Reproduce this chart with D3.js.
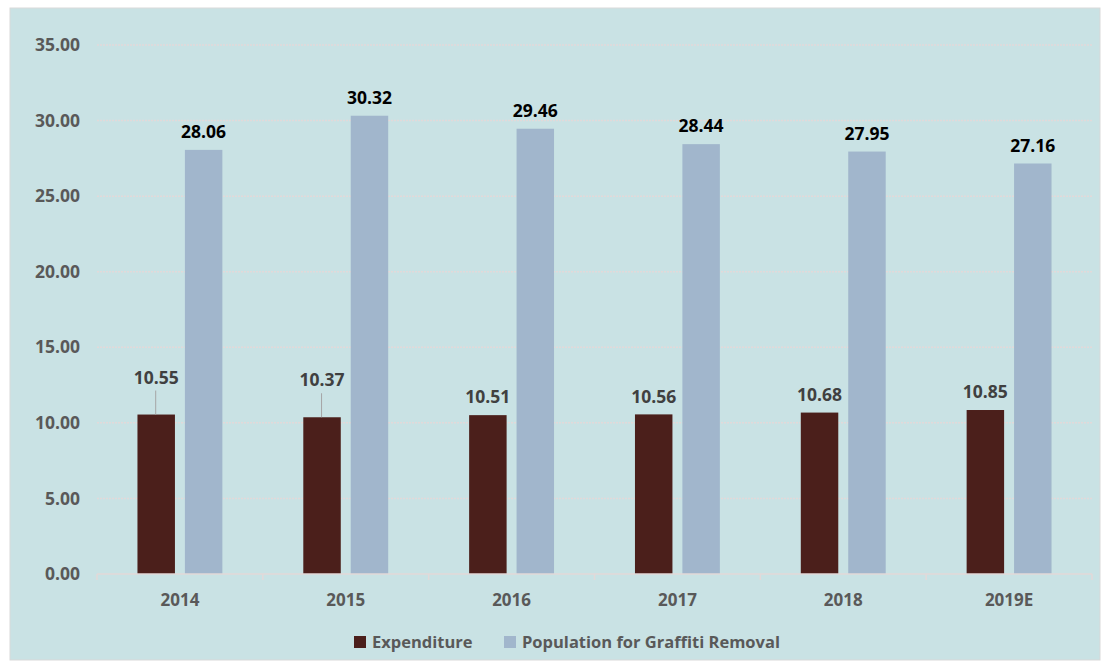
<!DOCTYPE html>
<html>
<head>
<meta charset="utf-8">
<script src="https://cdn.jsdelivr.net/npm/d3@7"></script>
<style>
  html, body { margin: 0; padding: 0; background: #ffffff; }
  svg text { font-family: "Open Sans", "Liberation Sans", sans-serif; font-weight: 700; }
</style>
</head>
<body>
<div id="chart"></div>
<script>
// data
const years = ["2014", "2015", "2016", "2017", "2018", "2019E"];
const expenditure = [10.55, 10.37, 10.51, 10.56, 10.68, 10.85];
const population = [28.06, 30.32, 29.46, 28.44, 27.95, 27.16];
const yTicks = [0, 5, 10, 15, 20, 25, 30, 35];
const seriesNames = ["Expenditure", "Population for Graffiti Removal"];
const seriesColors = ["#4b1f1b", "#a1b6cc"];

// dimensions
const width = 1110,
    height = 663,
    margin = { top: 45, right: 18, bottom: 89, left: 97 };

const svg = d3.select("#chart")
    .append("svg")
    .attr("width", width)
    .attr("height", height);

// panel background
svg.append("rect")
    .attr("x", 10)
    .attr("y", 8)
    .attr("width", 1090)
    .attr("height", 652)
    .attr("fill", "#c9e2e4")
    .attr("stroke", "#d9d9d9");

const x = d3.scaleBand()
    .domain(years)
    .range([margin.left, width - margin.right]);

const y = d3.scaleLinear()
    .domain([0, 35])
    .range([height - margin.bottom, margin.top]);

const barW = x.bandwidth() * 0.226,
    barGap = x.bandwidth() * 0.06;

// gridlines
svg.append("g")
    .selectAll("line")
    .data(yTicks.filter(d => d > 0))
    .enter()
    .append("line")
    .attr("x1", margin.left)
    .attr("x2", width - margin.right)
    .attr("y1", d => y(d))
    .attr("y2", d => y(d))
    .attr("stroke", "#e2d9d9")
    .attr("stroke-width", 1.5)
    .attr("stroke-dasharray", "2,1");

// y axis labels
svg.append("g")
    .selectAll("text")
    .data(yTicks)
    .enter()
    .append("text")
    .attr("x", 80)
    .attr("y", d => y(d))
    .attr("dy", "0.35em")
    .attr("text-anchor", "end")
    .attr("font-size", 17.5)
    .attr("fill", "#595959")
    .text(d => d.toFixed(2));

const barX = (year, i) => x(year) + x.bandwidth() / 2 + (i === 0 ? -barGap / 2 - barW : barGap / 2);

// bars
[expenditure, population].forEach((values, s) => {
    svg.append("g")
        .selectAll("rect")
        .data(values)
        .enter()
        .append("rect")
        .attr("x", (d, i) => barX(years[i], s))
        .attr("y", d => y(d))
        .attr("width", barW)
        .attr("height", d => y(0) - y(d))
        .attr("fill", seriesColors[s]);
});

// x axis line and ticks
const axis = svg.append("g").attr("stroke", "#e2d9d9").attr("stroke-width", 1.5);
axis.append("line")
    .attr("x1", margin.left)
    .attr("x2", width - margin.right)
    .attr("y1", y(0))
    .attr("y2", y(0));
axis.selectAll("line.tick")
    .data(years.concat(["end"]))
    .enter()
    .append("line")
    .attr("class", "tick")
    .attr("x1", (d, i) => i < years.length ? x(d) : x.range()[1])
    .attr("x2", (d, i) => i < years.length ? x(d) : x.range()[1])
    .attr("y1", y(0))
    .attr("y2", y(0) + 6);

// x labels
svg.append("g")
    .selectAll("text")
    .data(years)
    .enter()
    .append("text")
    .attr("x", d => x(d) + x.bandwidth() / 2)
    .attr("y", y(0) + 26)
    .attr("dy", "0.35em")
    .attr("text-anchor", "middle")
    .attr("font-size", 17)
    .attr("fill", "#595959")
    .text(d => d);

// expenditure labels (first two were pulled up with leader lines)
const lifted = [1, 1, 0, 0, 0, 0];
svg.append("g")
    .selectAll("line")
    .data(expenditure)
    .enter()
    .filter((d, i) => lifted[i])
    .append("line")
    .attr("x1", (d, i) => barX(years[i], 0) + barW / 2 - 0.5)
    .attr("x2", (d, i) => barX(years[i], 0) + barW / 2 - 0.5)
    .attr("y1", d => y(d) - 24)
    .attr("y2", d => y(d))
    .attr("stroke", "#a6a6a6")
    .attr("stroke-width", 1);

svg.append("g")
    .selectAll("text")
    .data(expenditure)
    .enter()
    .append("text")
    .attr("x", (d, i) => barX(years[i], 0) + barW / 2)
    .attr("y", (d, i) => y(d) - (lifted[i] ? 37 : 18))
    .attr("dy", "0.35em")
    .attr("text-anchor", "middle")
    .attr("font-size", 17.5)
    .attr("fill", "#404040")
    .text(d => d.toFixed(2));

// population labels
svg.append("g")
    .selectAll("text")
    .data(population)
    .enter()
    .append("text")
    .attr("x", (d, i) => barX(years[i], 1) + barW / 2)
    .attr("y", d => y(d) - 18)
    .attr("dy", "0.35em")
    .attr("text-anchor", "middle")
    .attr("font-size", 17.5)
    .attr("fill", "#000000")
    .text(d => d.toFixed(2));

// legend
const legendX = [354, 504];
const legend = svg.append("g")
    .selectAll("g")
    .data(seriesNames)
    .enter()
    .append("g")
    .attr("transform", (d, i) => `translate(${legendX[i]},636)`);

legend.append("rect")
    .attr("width", 12)
    .attr("height", 12)
    .attr("fill", (d, i) => seriesColors[i]);

legend.append("text")
    .attr("x", 18)
    .attr("y", 6)
    .attr("dy", "0.35em")
    .attr("font-size", 16.5)
    .attr("fill", "#595959")
    .text(d => d);
</script>
</body>
</html>
